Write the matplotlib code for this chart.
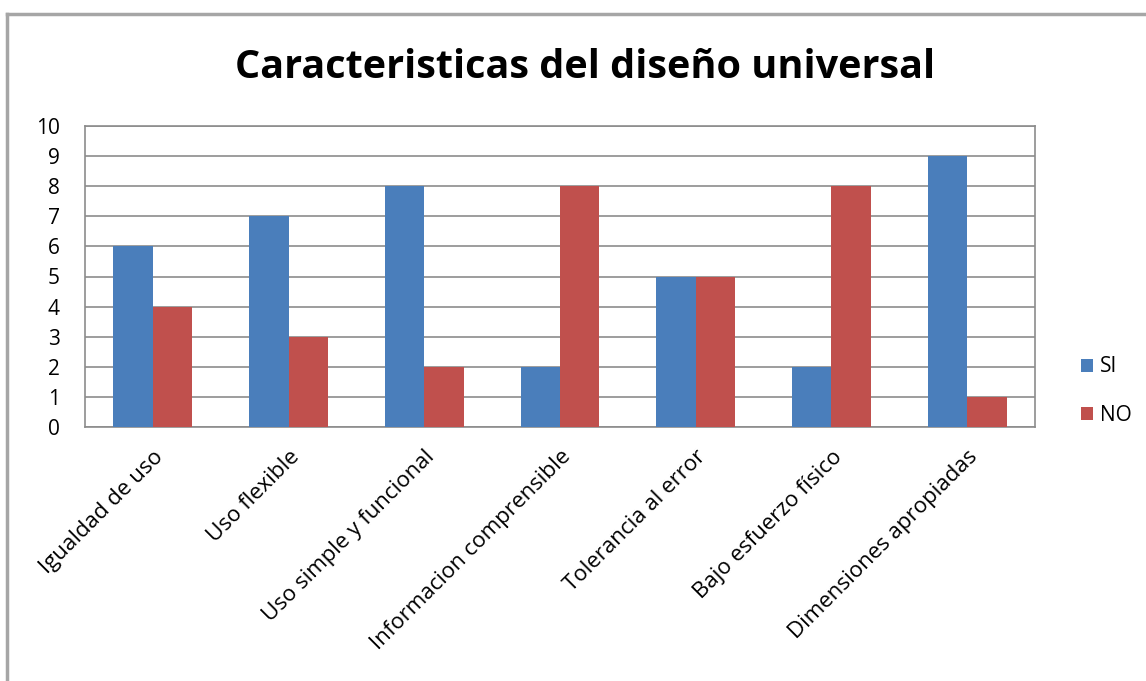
import matplotlib.pyplot as plt
import numpy as np
from matplotlib.lines import Line2D

categorias = ["Igualdad de uso", "Uso flexible", "Uso simple y funcional",
              "Informacion comprensible", "Tolerancia al error",
              "Bajo esfuerzo físico", "Dimensiones apropiadas"]
si = [6, 7, 8, 2, 5, 2, 9]
no = [4, 3, 2, 8, 5, 8, 1]

plt.rcParams['font.family'] = ['Open Sans', 'DejaVu Sans']

fig = plt.figure(figsize=(11.46, 6.81), dpi=100)
ax = fig.add_axes([85/1146, 1 - 427/681, 950/1146, 301/681])

# marco exterior (solo se ven el borde superior e izquierdo)
fig.lines.append(Line2D([7/1146, 1, ], [1 - 14/681, 1 - 14/681], transform=fig.transFigure,
                        color='#a6a6a6', linewidth=2.5))
fig.lines.append(Line2D([7/1146, 7/1146], [0, 1 - 14/681], transform=fig.transFigure,
                        color='#a6a6a6', linewidth=2.5))

x = np.arange(len(categorias))
w = 0.29
ax.bar(x - w/2, si, w, color='#4a7ebb', label='SI', zorder=3)
ax.bar(x + w/2, no, w, color='#c0504d', label='NO', zorder=3)

ax.set_xlim(-0.5, len(categorias) - 0.5)
ax.set_ylim(0, 10)
ax.set_yticks(range(0, 11))
ax.yaxis.grid(True, color='#8c8c8c', linewidth=1.2, zorder=0)
ax.set_axisbelow(True)
for s in ax.spines.values():
    s.set_color('#8c8c8c')
    s.set_linewidth(1.2)
ax.tick_params(axis='y', labelsize=15, length=0, pad=18)
ax.tick_params(axis='x', length=0, pad=14)
ax.set_xticks(x)
ax.set_xticklabels(categorias, rotation=45, ha='right', rotation_mode='anchor', fontsize=16)

fig.text(585/1146, 1 - 68/681, "Caracteristicas del diseño universal", ha='center', va='center',
         fontsize=28.5, fontweight='bold')

fig.legend(loc='center left', bbox_to_anchor=(1062/1146, 1 - 391/681), frameon=False,
           fontsize=15, handlelength=0.6, handleheight=0.6, labelspacing=1.3, handletextpad=0.3)

fig.savefig('out.png', dpi=100)
